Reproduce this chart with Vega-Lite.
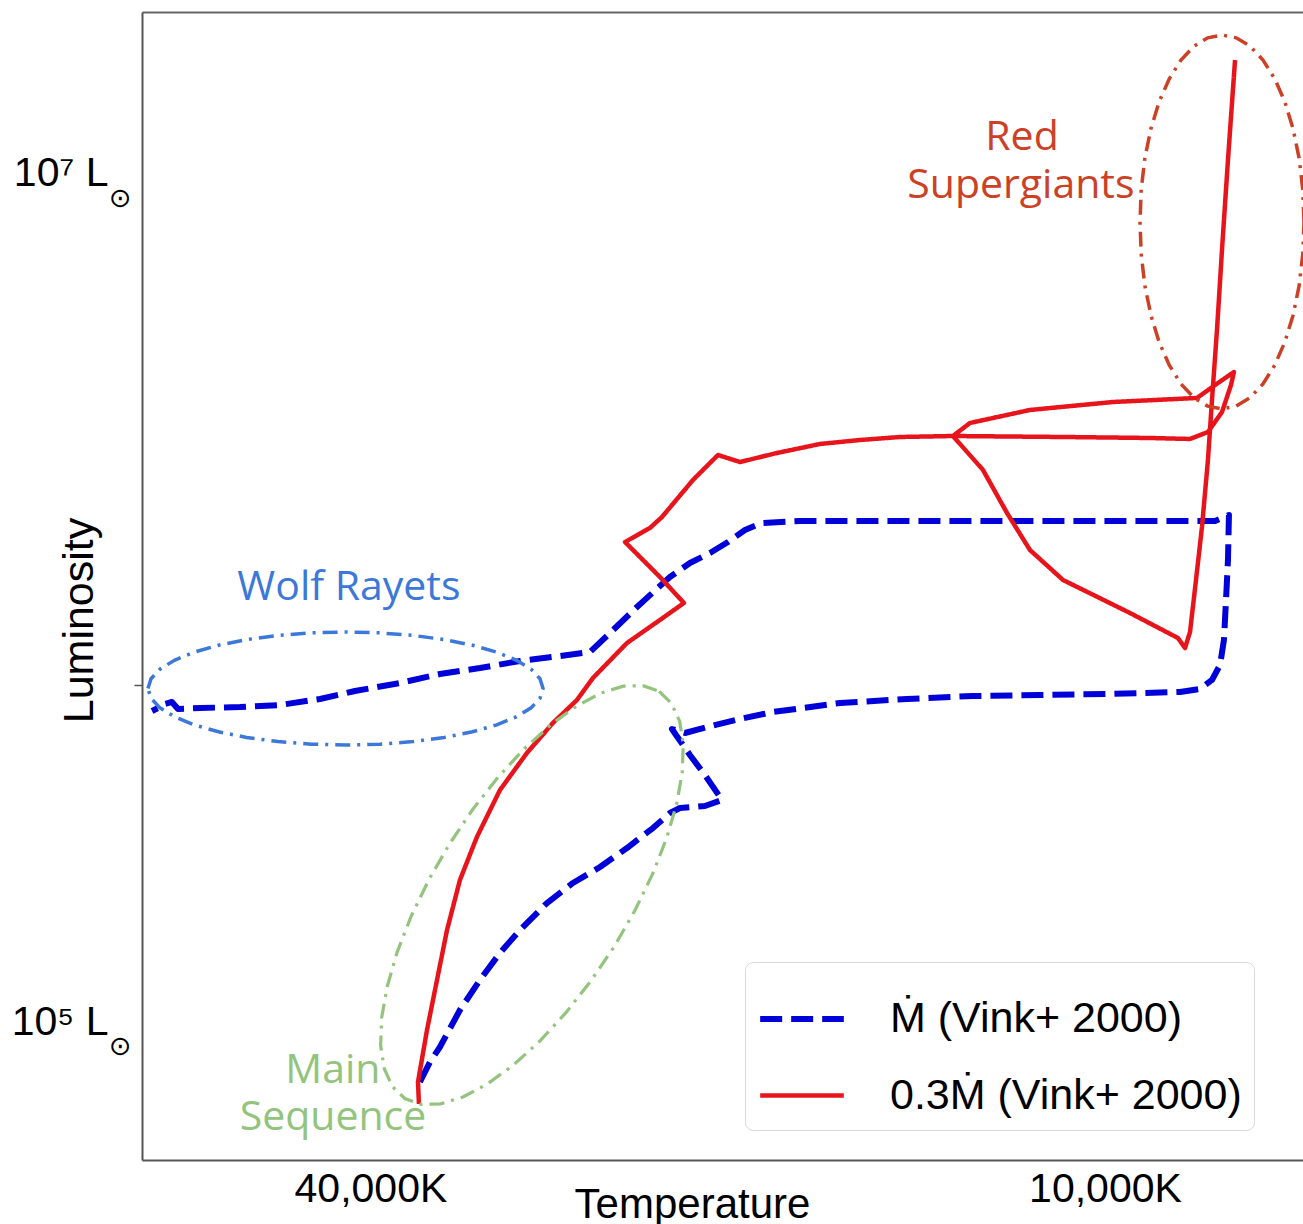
{
  "$schema": "https://vega.github.io/schema/vega-lite/v6.json",
  "width": 1161,
  "height": 1148,
  "autosize": "none",
  "padding": {"left": 142, "top": 12, "right": 0, "bottom": 64},
  "background": "white",
  "config": {"view": {"stroke": null}, "axis": {"grid": false}, "font": "Liberation Sans"},
  "datasets": {
    "tracks": [
      {"series": "Ṁ (Vink+ 2000)", "i": 1, "logT": 4.5615, "logL": 4.8833},
      {"series": "Ṁ (Vink+ 2000)", "i": 2, "logT": 4.5533, "logL": 4.9304},
      {"series": "Ṁ (Vink+ 2000)", "i": 3, "logT": 4.5451, "logL": 4.9658},
      {"series": "Ṁ (Vink+ 2000)", "i": 4, "logT": 4.5287, "logL": 5.0531},
      {"series": "Ṁ (Vink+ 2000)", "i": 5, "logT": 4.5123, "logL": 5.1238},
      {"series": "Ṁ (Vink+ 2000)", "i": 6, "logT": 4.4959, "logL": 5.1875},
      {"series": "Ṁ (Vink+ 2000)", "i": 7, "logT": 4.4795, "logL": 5.2417},
      {"series": "Ṁ (Vink+ 2000)", "i": 8, "logT": 4.4574, "logL": 5.3054},
      {"series": "Ṁ (Vink+ 2000)", "i": 9, "logT": 4.4361, "logL": 5.3526},
      {"series": "Ṁ (Vink+ 2000)", "i": 10, "logT": 4.4139, "logL": 5.3903},
      {"series": "Ṁ (Vink+ 2000)", "i": 11, "logT": 4.3918, "logL": 5.4351},
      {"series": "Ṁ (Vink+ 2000)", "i": 12, "logT": 4.3705, "logL": 5.4823},
      {"series": "Ṁ (Vink+ 2000)", "i": 13, "logT": 4.3566, "logL": 5.5177},
      {"series": "Ṁ (Vink+ 2000)", "i": 14, "logT": 4.3484, "logL": 5.5295},
      {"series": "Ṁ (Vink+ 2000)", "i": 15, "logT": 4.3279, "logL": 5.5342},
      {"series": "Ṁ (Vink+ 2000)", "i": 16, "logT": 4.3139, "logL": 5.5483},
      {"series": "Ṁ (Vink+ 2000)", "i": 17, "logT": 4.3279, "logL": 5.6073},
      {"series": "Ṁ (Vink+ 2000)", "i": 18, "logT": 4.3402, "logL": 5.6545},
      {"series": "Ṁ (Vink+ 2000)", "i": 19, "logT": 4.3516, "logL": 5.7017},
      {"series": "Ṁ (Vink+ 2000)", "i": 20, "logT": 4.3549, "logL": 5.7158},
      {"series": "Ṁ (Vink+ 2000)", "i": 21, "logT": 4.3443, "logL": 5.7064},
      {"series": "Ṁ (Vink+ 2000)", "i": 22, "logT": 4.3262, "logL": 5.7205},
      {"series": "Ṁ (Vink+ 2000)", "i": 23, "logT": 4.2992, "logL": 5.7394},
      {"series": "Ṁ (Vink+ 2000)", "i": 24, "logT": 4.2721, "logL": 5.7559},
      {"series": "Ṁ (Vink+ 2000)", "i": 25, "logT": 4.2172, "logL": 5.7771},
      {"series": "Ṁ (Vink+ 2000)", "i": 26, "logT": 4.1623, "logL": 5.7866},
      {"series": "Ṁ (Vink+ 2000)", "i": 27, "logT": 4.1082, "logL": 5.7936},
      {"series": "Ṁ (Vink+ 2000)", "i": 28, "logT": 4.0533, "logL": 5.7960},
      {"series": "Ṁ (Vink+ 2000)", "i": 29, "logT": 3.9984, "logL": 5.7983},
      {"series": "Ṁ (Vink+ 2000)", "i": 30, "logT": 3.9385, "logL": 5.8031},
      {"series": "Ṁ (Vink+ 2000)", "i": 31, "logT": 3.9221, "logL": 5.8101},
      {"series": "Ṁ (Vink+ 2000)", "i": 32, "logT": 3.9123, "logL": 5.8314},
      {"series": "Ṁ (Vink+ 2000)", "i": 33, "logT": 3.9057, "logL": 5.8667},
      {"series": "Ṁ (Vink+ 2000)", "i": 34, "logT": 3.9025, "logL": 5.9257},
      {"series": "Ṁ (Vink+ 2000)", "i": 35, "logT": 3.9008, "logL": 6.0200},
      {"series": "Ṁ (Vink+ 2000)", "i": 36, "logT": 3.8992, "logL": 6.1144},
      {"series": "Ṁ (Vink+ 2000)", "i": 37, "logT": 3.8984, "logL": 6.2205},
      {"series": "Ṁ (Vink+ 2000)", "i": 38, "logT": 3.9098, "logL": 6.2064},
      {"series": "Ṁ (Vink+ 2000)", "i": 39, "logT": 4.0861, "logL": 6.2064},
      {"series": "Ṁ (Vink+ 2000)", "i": 40, "logT": 4.2500, "logL": 6.2064},
      {"series": "Ṁ (Vink+ 2000)", "i": 41, "logT": 4.2811, "logL": 6.2017},
      {"series": "Ṁ (Vink+ 2000)", "i": 42, "logT": 4.2951, "logL": 6.1851},
      {"series": "Ṁ (Vink+ 2000)", "i": 43, "logT": 4.3090, "logL": 6.1568},
      {"series": "Ṁ (Vink+ 2000)", "i": 44, "logT": 4.3238, "logL": 6.1309},
      {"series": "Ṁ (Vink+ 2000)", "i": 45, "logT": 4.3402, "logL": 6.1073},
      {"series": "Ṁ (Vink+ 2000)", "i": 46, "logT": 4.3566, "logL": 6.0743},
      {"series": "Ṁ (Vink+ 2000)", "i": 47, "logT": 4.3836, "logL": 6.0035},
      {"series": "Ṁ (Vink+ 2000)", "i": 48, "logT": 4.4057, "logL": 5.9422},
      {"series": "Ṁ (Vink+ 2000)", "i": 49, "logT": 4.4221, "logL": 5.8974},
      {"series": "Ṁ (Vink+ 2000)", "i": 50, "logT": 4.4467, "logL": 5.8880},
      {"series": "Ṁ (Vink+ 2000)", "i": 51, "logT": 4.4795, "logL": 5.8762},
      {"series": "Ṁ (Vink+ 2000)", "i": 52, "logT": 4.5123, "logL": 5.8597},
      {"series": "Ṁ (Vink+ 2000)", "i": 53, "logT": 4.5451, "logL": 5.8455},
      {"series": "Ṁ (Vink+ 2000)", "i": 54, "logT": 4.5779, "logL": 5.8243},
      {"series": "Ṁ (Vink+ 2000)", "i": 55, "logT": 4.6148, "logL": 5.8054},
      {"series": "Ṁ (Vink+ 2000)", "i": 56, "logT": 4.6434, "logL": 5.7866},
      {"series": "Ṁ (Vink+ 2000)", "i": 57, "logT": 4.6762, "logL": 5.7724},
      {"series": "Ṁ (Vink+ 2000)", "i": 58, "logT": 4.7090, "logL": 5.7677},
      {"series": "Ṁ (Vink+ 2000)", "i": 59, "logT": 4.7418, "logL": 5.7653},
      {"series": "Ṁ (Vink+ 2000)", "i": 60, "logT": 4.7598, "logL": 5.7630},
      {"series": "Ṁ (Vink+ 2000)", "i": 61, "logT": 4.7648, "logL": 5.7795},
      {"series": "Ṁ (Vink+ 2000)", "i": 62, "logT": 4.7705, "logL": 5.7748},
      {"series": "Ṁ (Vink+ 2000)", "i": 63, "logT": 4.7762, "logL": 5.7653},
      {"series": "Ṁ (Vink+ 2000)", "i": 64, "logT": 4.7811, "logL": 5.7582},
      {"series": "0.3Ṁ (Vink+ 2000)", "i": 1, "logT": 4.5623, "logL": 4.8314},
      {"series": "0.3Ṁ (Vink+ 2000)", "i": 2, "logT": 4.5631, "logL": 4.8833},
      {"series": "0.3Ṁ (Vink+ 2000)", "i": 3, "logT": 4.5557, "logL": 5.0059},
      {"series": "0.3Ṁ (Vink+ 2000)", "i": 4, "logT": 4.5475, "logL": 5.1238},
      {"series": "0.3Ṁ (Vink+ 2000)", "i": 5, "logT": 4.5393, "logL": 5.2417},
      {"series": "0.3Ṁ (Vink+ 2000)", "i": 6, "logT": 4.5287, "logL": 5.3597},
      {"series": "0.3Ṁ (Vink+ 2000)", "i": 7, "logT": 4.5148, "logL": 5.4611},
      {"series": "0.3Ṁ (Vink+ 2000)", "i": 8, "logT": 4.4959, "logL": 5.5719},
      {"series": "0.3Ṁ (Vink+ 2000)", "i": 9, "logT": 4.4738, "logL": 5.6592},
      {"series": "0.3Ṁ (Vink+ 2000)", "i": 10, "logT": 4.4525, "logL": 5.7300},
      {"series": "0.3Ṁ (Vink+ 2000)", "i": 11, "logT": 4.4328, "logL": 5.7842},
      {"series": "0.3Ṁ (Vink+ 2000)", "i": 12, "logT": 4.4197, "logL": 5.8361},
      {"series": "0.3Ṁ (Vink+ 2000)", "i": 13, "logT": 4.3918, "logL": 5.9186},
      {"series": "0.3Ṁ (Vink+ 2000)", "i": 14, "logT": 4.3648, "logL": 5.9729},
      {"series": "0.3Ṁ (Vink+ 2000)", "i": 15, "logT": 4.3451, "logL": 6.0130},
      {"series": "0.3Ṁ (Vink+ 2000)", "i": 16, "logT": 4.3648, "logL": 6.0743},
      {"series": "0.3Ṁ (Vink+ 2000)", "i": 17, "logT": 4.3934, "logL": 6.1568},
      {"series": "0.3Ṁ (Vink+ 2000)", "i": 18, "logT": 4.3730, "logL": 6.1899},
      {"series": "0.3Ṁ (Vink+ 2000)", "i": 19, "logT": 4.3631, "logL": 6.2158},
      {"series": "0.3Ṁ (Vink+ 2000)", "i": 20, "logT": 4.3377, "logL": 6.3031},
      {"series": "0.3Ṁ (Vink+ 2000)", "i": 21, "logT": 4.3172, "logL": 6.3620},
      {"series": "0.3Ṁ (Vink+ 2000)", "i": 22, "logT": 4.2992, "logL": 6.3455},
      {"series": "0.3Ṁ (Vink+ 2000)", "i": 23, "logT": 4.2689, "logL": 6.3667},
      {"series": "0.3Ṁ (Vink+ 2000)", "i": 24, "logT": 4.2336, "logL": 6.3880},
      {"series": "0.3Ṁ (Vink+ 2000)", "i": 25, "logT": 4.2008, "logL": 6.3974},
      {"series": "0.3Ṁ (Vink+ 2000)", "i": 26, "logT": 4.1680, "logL": 6.4045},
      {"series": "0.3Ṁ (Vink+ 2000)", "i": 27, "logT": 4.1246, "logL": 6.4068},
      {"series": "0.3Ṁ (Vink+ 2000)", "i": 28, "logT": 4.0344, "logL": 6.4045},
      {"series": "0.3Ṁ (Vink+ 2000)", "i": 29, "logT": 3.9631, "logL": 6.4021},
      {"series": "0.3Ṁ (Vink+ 2000)", "i": 30, "logT": 3.9303, "logL": 6.3998},
      {"series": "0.3Ṁ (Vink+ 2000)", "i": 31, "logT": 3.9156, "logL": 6.4163},
      {"series": "0.3Ṁ (Vink+ 2000)", "i": 32, "logT": 3.9041, "logL": 6.4634},
      {"series": "0.3Ṁ (Vink+ 2000)", "i": 33, "logT": 3.8967, "logL": 6.5271},
      {"series": "0.3Ṁ (Vink+ 2000)", "i": 34, "logT": 3.8943, "logL": 6.5578},
      {"series": "0.3Ṁ (Vink+ 2000)", "i": 35, "logT": 3.9074, "logL": 6.5318},
      {"series": "0.3Ṁ (Vink+ 2000)", "i": 36, "logT": 3.9246, "logL": 6.4965},
      {"series": "0.3Ṁ (Vink+ 2000)", "i": 37, "logT": 3.9934, "logL": 6.4870},
      {"series": "0.3Ṁ (Vink+ 2000)", "i": 38, "logT": 4.0615, "logL": 6.4682},
      {"series": "0.3Ṁ (Vink+ 2000)", "i": 39, "logT": 4.1107, "logL": 6.4375},
      {"series": "0.3Ṁ (Vink+ 2000)", "i": 40, "logT": 4.1246, "logL": 6.4068},
      {"series": "0.3Ṁ (Vink+ 2000)", "i": 41, "logT": 4.1000, "logL": 6.3267},
      {"series": "0.3Ṁ (Vink+ 2000)", "i": 42, "logT": 4.0803, "logL": 6.2252},
      {"series": "0.3Ṁ (Vink+ 2000)", "i": 43, "logT": 4.0615, "logL": 6.1380},
      {"series": "0.3Ṁ (Vink+ 2000)", "i": 44, "logT": 4.0344, "logL": 6.0672},
      {"series": "0.3Ṁ (Vink+ 2000)", "i": 45, "logT": 3.9795, "logL": 5.9894},
      {"series": "0.3Ṁ (Vink+ 2000)", "i": 46, "logT": 3.9402, "logL": 5.9304},
      {"series": "0.3Ṁ (Vink+ 2000)", "i": 47, "logT": 3.9344, "logL": 5.9068},
      {"series": "0.3Ṁ (Vink+ 2000)", "i": 48, "logT": 3.9303, "logL": 5.9446},
      {"series": "0.3Ṁ (Vink+ 2000)", "i": 49, "logT": 3.9254, "logL": 6.0672},
      {"series": "0.3Ṁ (Vink+ 2000)", "i": 50, "logT": 3.9205, "logL": 6.1922},
      {"series": "0.3Ṁ (Vink+ 2000)", "i": 51, "logT": 3.9156, "logL": 6.3502},
      {"series": "0.3Ṁ (Vink+ 2000)", "i": 52, "logT": 3.9123, "logL": 6.4917},
      {"series": "0.3Ṁ (Vink+ 2000)", "i": 53, "logT": 3.9082, "logL": 6.6568},
      {"series": "0.3Ṁ (Vink+ 2000)", "i": 54, "logT": 3.9041, "logL": 6.8455},
      {"series": "0.3Ṁ (Vink+ 2000)", "i": 55, "logT": 3.8992, "logL": 7.0578},
      {"series": "0.3Ṁ (Vink+ 2000)", "i": 56, "logT": 3.8934, "logL": 7.2936}
    ],
    "ellipses": [
      {"region": "wr", "i": 0, "logT": 4.7844, "logL": 5.8113},
      {"region": "wr", "i": 1, "logT": 4.7819, "logL": 5.8344},
      {"region": "wr", "i": 2, "logT": 4.7746, "logL": 5.8569},
      {"region": "wr", "i": 3, "logT": 4.7627, "logL": 5.8779},
      {"region": "wr", "i": 4, "logT": 4.7465, "logL": 5.8970},
      {"region": "wr", "i": 5, "logT": 4.7266, "logL": 5.9134},
      {"region": "wr", "i": 6, "logT": 4.7035, "logL": 5.9267},
      {"region": "wr", "i": 7, "logT": 4.6779, "logL": 5.9365},
      {"region": "wr", "i": 8, "logT": 4.6506, "logL": 5.9425},
      {"region": "wr", "i": 9, "logT": 4.6225, "logL": 5.9446},
      {"region": "wr", "i": 10, "logT": 4.5944, "logL": 5.9425},
      {"region": "wr", "i": 11, "logT": 4.5671, "logL": 5.9365},
      {"region": "wr", "i": 12, "logT": 4.5416, "logL": 5.9267},
      {"region": "wr", "i": 13, "logT": 4.5184, "logL": 5.9134},
      {"region": "wr", "i": 14, "logT": 4.4985, "logL": 5.8970},
      {"region": "wr", "i": 15, "logT": 4.4823, "logL": 5.8779},
      {"region": "wr", "i": 16, "logT": 4.4704, "logL": 5.8569},
      {"region": "wr", "i": 17, "logT": 4.4631, "logL": 5.8344},
      {"region": "wr", "i": 18, "logT": 4.4606, "logL": 5.8113},
      {"region": "wr", "i": 19, "logT": 4.4631, "logL": 5.7882},
      {"region": "wr", "i": 20, "logT": 4.4704, "logL": 5.7657},
      {"region": "wr", "i": 21, "logT": 4.4823, "logL": 5.7447},
      {"region": "wr", "i": 22, "logT": 4.4985, "logL": 5.7256},
      {"region": "wr", "i": 23, "logT": 4.5184, "logL": 5.7092},
      {"region": "wr", "i": 24, "logT": 4.5416, "logL": 5.6959},
      {"region": "wr", "i": 25, "logT": 4.5671, "logL": 5.6861},
      {"region": "wr", "i": 26, "logT": 4.5944, "logL": 5.6801},
      {"region": "wr", "i": 27, "logT": 4.6225, "logL": 5.6780},
      {"region": "wr", "i": 28, "logT": 4.6506, "logL": 5.6801},
      {"region": "wr", "i": 29, "logT": 4.6779, "logL": 5.6861},
      {"region": "wr", "i": 30, "logT": 4.7035, "logL": 5.6959},
      {"region": "wr", "i": 31, "logT": 4.7266, "logL": 5.7092},
      {"region": "wr", "i": 32, "logT": 4.7465, "logL": 5.7256},
      {"region": "wr", "i": 33, "logT": 4.7627, "logL": 5.7447},
      {"region": "wr", "i": 34, "logT": 4.7746, "logL": 5.7657},
      {"region": "wr", "i": 35, "logT": 4.7819, "logL": 5.7882},
      {"region": "wr", "i": 36, "logT": 4.7844, "logL": 5.8113},
      {"region": "rsg", "i": 0, "logT": 3.8369, "logL": 6.9116},
      {"region": "rsg", "i": 1, "logT": 3.8379, "logL": 6.9882},
      {"region": "rsg", "i": 2, "logT": 3.8409, "logL": 7.0624},
      {"region": "rsg", "i": 3, "logT": 3.8459, "logL": 7.1321},
      {"region": "rsg", "i": 4, "logT": 3.8526, "logL": 7.1951},
      {"region": "rsg", "i": 5, "logT": 3.8609, "logL": 7.2494},
      {"region": "rsg", "i": 6, "logT": 3.8705, "logL": 7.2936},
      {"region": "rsg", "i": 7, "logT": 3.8811, "logL": 7.3261},
      {"region": "rsg", "i": 8, "logT": 3.8924, "logL": 7.3459},
      {"region": "rsg", "i": 9, "logT": 3.9041, "logL": 7.3526},
      {"region": "rsg", "i": 10, "logT": 3.9158, "logL": 7.3459},
      {"region": "rsg", "i": 11, "logT": 3.9271, "logL": 7.3261},
      {"region": "rsg", "i": 12, "logT": 3.9377, "logL": 7.2936},
      {"region": "rsg", "i": 13, "logT": 3.9473, "logL": 7.2494},
      {"region": "rsg", "i": 14, "logT": 3.9556, "logL": 7.1951},
      {"region": "rsg", "i": 15, "logT": 3.9623, "logL": 7.1321},
      {"region": "rsg", "i": 16, "logT": 3.9673, "logL": 7.0624},
      {"region": "rsg", "i": 17, "logT": 3.9703, "logL": 6.9882},
      {"region": "rsg", "i": 18, "logT": 3.9713, "logL": 6.9116},
      {"region": "rsg", "i": 19, "logT": 3.9703, "logL": 6.8350},
      {"region": "rsg", "i": 20, "logT": 3.9673, "logL": 6.7608},
      {"region": "rsg", "i": 21, "logT": 3.9623, "logL": 6.6911},
      {"region": "rsg", "i": 22, "logT": 3.9556, "logL": 6.6281},
      {"region": "rsg", "i": 23, "logT": 3.9473, "logL": 6.5738},
      {"region": "rsg", "i": 24, "logT": 3.9377, "logL": 6.5296},
      {"region": "rsg", "i": 25, "logT": 3.9271, "logL": 6.4971},
      {"region": "rsg", "i": 26, "logT": 3.9158, "logL": 6.4773},
      {"region": "rsg", "i": 27, "logT": 3.9041, "logL": 6.4706},
      {"region": "rsg", "i": 28, "logT": 3.8924, "logL": 6.4773},
      {"region": "rsg", "i": 29, "logT": 3.8811, "logL": 6.4971},
      {"region": "rsg", "i": 30, "logT": 3.8705, "logL": 6.5296},
      {"region": "rsg", "i": 31, "logT": 3.8609, "logL": 6.5738},
      {"region": "rsg", "i": 32, "logT": 3.8526, "logL": 6.6281},
      {"region": "rsg", "i": 33, "logT": 3.8459, "logL": 6.6911},
      {"region": "rsg", "i": 34, "logT": 3.8409, "logL": 6.7608},
      {"region": "rsg", "i": 35, "logT": 3.8379, "logL": 6.8350},
      {"region": "rsg", "i": 36, "logT": 3.8369, "logL": 6.9116},
      {"region": "ms", "i": 0, "logT": 4.3654, "logL": 5.8043},
      {"region": "ms", "i": 1, "logT": 4.3553, "logL": 5.7759},
      {"region": "ms", "i": 2, "logT": 4.3486, "logL": 5.7339},
      {"region": "ms", "i": 3, "logT": 4.3457, "logL": 5.6793},
      {"region": "ms", "i": 4, "logT": 4.3465, "logL": 5.6140},
      {"region": "ms", "i": 5, "logT": 4.3510, "logL": 5.5400},
      {"region": "ms", "i": 6, "logT": 4.3592, "logL": 5.4593},
      {"region": "ms", "i": 7, "logT": 4.3707, "logL": 5.3745},
      {"region": "ms", "i": 8, "logT": 4.3852, "logL": 5.2882},
      {"region": "ms", "i": 9, "logT": 4.4022, "logL": 5.2030},
      {"region": "ms", "i": 10, "logT": 4.4214, "logL": 5.1216},
      {"region": "ms", "i": 11, "logT": 4.4420, "logL": 5.0462},
      {"region": "ms", "i": 12, "logT": 4.4634, "logL": 4.9793},
      {"region": "ms", "i": 13, "logT": 4.4850, "logL": 4.9229},
      {"region": "ms", "i": 14, "logT": 4.5062, "logL": 4.8787},
      {"region": "ms", "i": 15, "logT": 4.5262, "logL": 4.8480},
      {"region": "ms", "i": 16, "logT": 4.5446, "logL": 4.8318},
      {"region": "ms", "i": 17, "logT": 4.5606, "logL": 4.8305},
      {"region": "ms", "i": 18, "logT": 4.5739, "logL": 4.8443},
      {"region": "ms", "i": 19, "logT": 4.5841, "logL": 4.8726},
      {"region": "ms", "i": 20, "logT": 4.5907, "logL": 4.9147},
      {"region": "ms", "i": 21, "logT": 4.5937, "logL": 4.9692},
      {"region": "ms", "i": 22, "logT": 4.5929, "logL": 5.0346},
      {"region": "ms", "i": 23, "logT": 4.5883, "logL": 5.1086},
      {"region": "ms", "i": 24, "logT": 4.5802, "logL": 5.1893},
      {"region": "ms", "i": 25, "logT": 4.5687, "logL": 5.2741},
      {"region": "ms", "i": 26, "logT": 4.5542, "logL": 5.3604},
      {"region": "ms", "i": 27, "logT": 4.5371, "logL": 5.4455},
      {"region": "ms", "i": 28, "logT": 4.5180, "logL": 5.5270},
      {"region": "ms", "i": 29, "logT": 4.4974, "logL": 5.6024},
      {"region": "ms", "i": 30, "logT": 4.4759, "logL": 5.6693},
      {"region": "ms", "i": 31, "logT": 4.4543, "logL": 5.7257},
      {"region": "ms", "i": 32, "logT": 4.4331, "logL": 5.7699},
      {"region": "ms", "i": 33, "logT": 4.4131, "logL": 5.8006},
      {"region": "ms", "i": 34, "logT": 4.3948, "logL": 5.8168},
      {"region": "ms", "i": 35, "logT": 4.3787, "logL": 5.8180},
      {"region": "ms", "i": 36, "logT": 4.3654, "logL": 5.8043}
    ],
    "labels": [
      {"region": "rsg", "text": "Red", "logT": 4.0680, "logL": 7.0814},
      {"region": "rsg", "text": "Supergiants", "logT": 4.0689, "logL": 6.9682},
      {"region": "wr", "text": "Wolf Rayets", "logT": 4.6197, "logL": 6.0200},
      {"region": "ms", "text": "Main", "logT": 4.6328, "logL": 4.8809},
      {"region": "ms", "text": "Sequence", "logT": 4.6328, "logL": 4.7700}
    ]
  },
  "resolve": {"axis": {"x": "independent", "y": "independent"}},
  "layer": [
    {
      "data": {"name": "tracks"},
      "mark": {"type": "line", "clip": true, "strokeJoin": "round"},
      "encoding": {
        "x": {
          "field": "logT", "type": "quantitative",
          "scale": {"domain": [3.8377, 4.7893], "reverse": true, "zero": false, "nice": false},
          "axis": {
            "orient": "bottom", "values": [4, 4.60206],
            "labelExpr": "datum.value == 4 ? '10,000K' : '40,000K'",
            "labelFont": "Liberation Sans", "labelFontSize": 41, "labelColor": "black",
            "labelPadding": 9, "ticks": false, "labelFlush": false, "labelOverlap": false,
            "domainColor": "#555555", "domainWidth": 2,
            "title": "Temperature", "titleFont": "Liberation Sans", "titleFontSize": 42,
            "titleFontWeight": "normal", "titleColor": "black",
            "titleX": 550, "titleY": 57, "titleBaseline": "alphabetic", "titleAlign": "center"
          }
        },
        "y": {
          "field": "logL", "type": "quantitative",
          "scale": {"domain": [4.6993, 7.4068], "zero": false, "nice": false},
          "axis": {
            "orient": "left", "values": [5, 5.82, 7],
            "labelExpr": "datum.value == 7 ? '10⁷ L' : datum.value == 5 ? '10⁵ L' : ''",
            "labelFont": "Liberation Sans", "labelFontSize": 41, "labelColor": "black",
            "labelAlign": "right", "labelBaseline": "middle", "labelPadding": 26, "labelOffset": -10.5,
            "labelFlush": false, "labelOverlap": false,
            "tickSize": 8, "tickWidth": 1.5,
            "tickColor": {"condition": {"test": "datum.value == 5.82", "value": "#555555"}, "value": "transparent"},
            "domainColor": "#555555", "domainWidth": 2,
            "title": "Luminosity", "titleFont": "Liberation Sans", "titleFontSize": 43,
            "titleFontWeight": "normal", "titleColor": "black", "titleAngle": -90,
            "titleX": -50, "titleY": 608, "titleBaseline": "alphabetic", "titleAlign": "center"
          }
        },
        "order": {"field": "i", "type": "quantitative"},
        "color": {
          "field": "series", "type": "nominal",
          "scale": {"domain": ["Ṁ (Vink+ 2000)", "0.3Ṁ (Vink+ 2000)"], "range": ["#0000d8", "#e8141c"]},
          "legend": {
            "orient": "none", "legendX": 603, "legendY": 950, "title": null,
            "symbolType": "stroke", "symbolSize": 7000,
            "labelFont": "Liberation Sans", "labelFontSize": 43, "labelColor": "black",
            "labelLimit": 0, "labelOffset": 43, "padding": 12, "rowPadding": 10,
            "fillColor": "white", "strokeColor": "#d9d9d9", "cornerRadius": 8
          }
        },
        "strokeDash": {
          "field": "series", "type": "nominal",
          "scale": {"domain": ["Ṁ (Vink+ 2000)", "0.3Ṁ (Vink+ 2000)"], "range": [[22, 9], [1, 0]]},
          "legend": {
            "orient": "none", "legendX": 603, "legendY": 950, "title": null,
            "symbolType": "stroke", "symbolSize": 7000,
            "labelFont": "Liberation Sans", "labelFontSize": 43, "labelColor": "black",
            "labelLimit": 0, "labelOffset": 43, "padding": 12, "rowPadding": 10,
            "fillColor": "white", "strokeColor": "#d9d9d9", "cornerRadius": 8
          }
        },
        "strokeWidth": {
          "field": "series", "type": "nominal",
          "scale": {"domain": ["Ṁ (Vink+ 2000)", "0.3Ṁ (Vink+ 2000)"], "range": [6, 4.5]},
          "legend": {
            "orient": "none", "legendX": 603, "legendY": 950, "title": null,
            "symbolType": "stroke", "symbolSize": 7000,
            "labelFont": "Liberation Sans", "labelFontSize": 43, "labelColor": "black",
            "labelLimit": 0, "labelOffset": 43, "padding": 12, "rowPadding": 10,
            "fillColor": "white", "strokeColor": "#d9d9d9", "cornerRadius": 8
          }
        }
      }
    },
    {
      "data": {"name": "ellipses"},
      "transform": [{"filter": "datum.region == 'wr'"}],
      "mark": {"type": "line", "clip": true, "stroke": "#3c78d8", "strokeWidth": 3.5, "strokeDash": [15, 7, 3, 7]},
      "encoding": {
        "x": {"field": "logT", "type": "quantitative", "axis": null},
        "y": {"field": "logL", "type": "quantitative", "axis": null},
        "order": {"field": "i", "type": "quantitative"}
      }
    },
    {
      "data": {"name": "ellipses"},
      "transform": [{"filter": "datum.region == 'rsg'"}],
      "mark": {"type": "line", "clip": true, "stroke": "#cc4125", "strokeWidth": 3.5, "strokeDash": [15, 7, 3, 7]},
      "encoding": {
        "x": {"field": "logT", "type": "quantitative", "axis": null},
        "y": {"field": "logL", "type": "quantitative", "axis": null},
        "order": {"field": "i", "type": "quantitative"}
      }
    },
    {
      "data": {"name": "ellipses"},
      "transform": [{"filter": "datum.region == 'ms'"}],
      "mark": {"type": "line", "clip": true, "stroke": "#93c47d", "strokeWidth": 3.2, "strokeDash": [15, 7, 3, 7]},
      "encoding": {
        "x": {"field": "logT", "type": "quantitative", "axis": null},
        "y": {"field": "logL", "type": "quantitative", "axis": null},
        "order": {"field": "i", "type": "quantitative"}
      }
    },
    {
      "data": {"name": "labels"},
      "transform": [{"filter": "datum.region == 'rsg'"}],
      "mark": {"type": "text", "font": "Open Sans", "fontSize": 41, "align": "center", "baseline": "alphabetic", "color": "#cc4125"},
      "encoding": {
        "x": {
          "field": "logT", "type": "quantitative",
          "axis": {"orient": "top", "labels": false, "ticks": false, "domainColor": "#666666", "domainWidth": 2, "title": null}
        },
        "y": {
          "field": "logL", "type": "quantitative",
          "axis": {
            "orient": "left", "values": [5, 7], "labelExpr": "'⊙'",
            "labelFont": "DejaVu Sans", "labelFontSize": 27, "labelColor": "black",
            "ticks": false, "domain": false, "labelPadding": 11, "labelOffset": 14,
            "labelAlign": "right", "labelBaseline": "middle", "labelFlush": false, "labelOverlap": false,
            "title": null
          }
        },
        "text": {"field": "text", "type": "nominal"}
      }
    },
    {
      "data": {"name": "labels"},
      "transform": [{"filter": "datum.region == 'wr'"}],
      "mark": {"type": "text", "font": "Open Sans", "fontSize": 41, "align": "center", "baseline": "alphabetic", "color": "#3c78d8"},
      "encoding": {
        "x": {"field": "logT", "type": "quantitative", "axis": null},
        "y": {"field": "logL", "type": "quantitative", "axis": null},
        "text": {"field": "text", "type": "nominal"}
      }
    },
    {
      "data": {"name": "labels"},
      "transform": [{"filter": "datum.region == 'ms'"}],
      "mark": {"type": "text", "font": "Open Sans", "fontSize": 41, "align": "center", "baseline": "alphabetic", "color": "#93c47d"},
      "encoding": {
        "x": {"field": "logT", "type": "quantitative", "axis": null},
        "y": {"field": "logL", "type": "quantitative", "axis": null},
        "text": {"field": "text", "type": "nominal"}
      }
    }
  ]
}
